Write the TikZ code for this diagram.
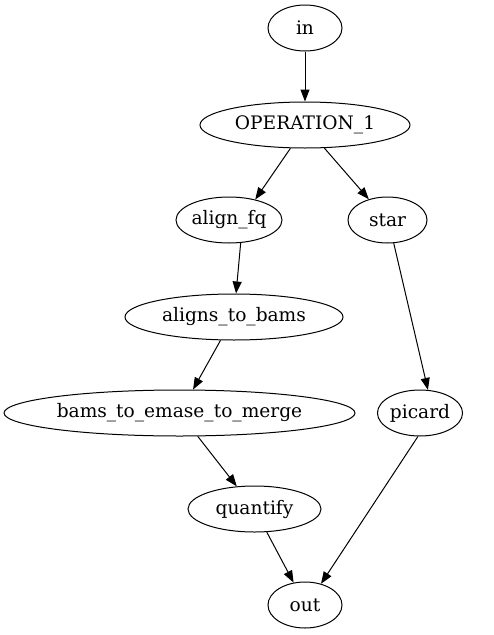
\documentclass[tikz,border=0pt]{standalone}
\usepackage{fontspec}
\setmainfont{DejaVu Serif}
\usetikzlibrary{arrows.meta,shapes.geometric}
\begin{document}
\begin{tikzpicture}[x=1pt,y=-1pt,
  nd/.style={ellipse,draw,line width=1pt,inner sep=0pt,minimum height=46pt,font=\fontsize{18.6}{22}\selectfont},
  ed/.style={line width=1pt,-{Triangle[length=12pt,width=9pt]}}]
\useasboundingbox (0,0) rectangle (493,635);
\node[nd,minimum width=74pt]  (in)  at (305,28)    {in};
\node[nd,minimum width=210pt] (op)  at (305,125)   {OPERATION\_1};
\node[nd,minimum width=98pt]  (af)  at (229,220)   {align\_fq};
\node[nd,minimum width=79pt]  (st)  at (387.5,220) {star};
\node[nd,minimum width=218pt] (ab)  at (234,317)   {aligns\_to\_bams};
\node[nd,minimum width=351pt] (bm)  at (179.5,413) {bams\_to\_emase\_to\_merge};
\node[nd,minimum width=80pt]  (pc)  at (420,413)   {picard};
\node[nd,minimum width=133pt] (qt)  at (254.5,509) {quantify};
\node[nd,minimum width=74pt]  (out) at (305,605)   {out};
\draw[ed] (in) -- (op);
\draw[ed] (op.238) -- (af.38);
\draw[ed] (op.310) -- (st.132);
\draw[ed] (af.-63) -- (ab.85);
\draw[ed] (st.-75) -- (pc.71);
\draw[ed] (ab.240) -- (bm.60);
\draw[ed] (bm.-52) -- (qt.128);
\draw[ed] (qt.-62) -- (out.117);
\draw[ed] (pc.265) -- (out.53);
\end{tikzpicture}
\end{document}
